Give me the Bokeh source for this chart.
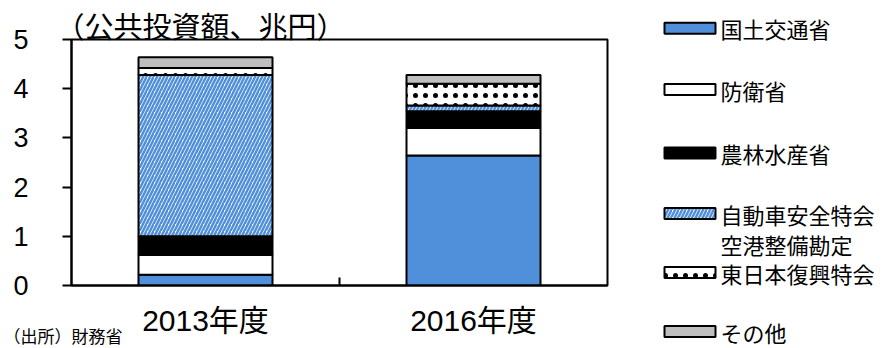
from bokeh.plotting import figure
from bokeh.models import Range1d, FixedTicker, GridBox
from bokeh.embed import file_html
from bokeh.resources import INLINE
from bokeh.core.properties import value
import numpy as np

# ---------------- data ----------------
years = ["2013年度", "2016年度"]
series = ["国土交通省", "防衛省", "農林水産省", "自動車安全特会\n空港整備勘定", "東日本復興特会", "その他"]
mlit = [0.22, 2.64]
defense = [0.40, 0.56]
maff = [0.38, 0.34]
auto_airport = [3.28, 0.12]
reconstruction = [0.14, 0.44]
other = [0.22, 0.18]
y_ticks = [0, 1, 2, 3, 4, 5]
title_text = "（公共投資額、兆円）"
source_text = "（出所）財務省"

values = [mlit, defense, maff, auto_airport, reconstruction, other]

# ---------------- styles ----------------
BLUE = "#508FDA"
styles = [
    dict(fill_color=BLUE),
    dict(fill_color="white"),
    dict(fill_color="black"),
    dict(fill_color="white", hatch_pattern="right_diagonal_line", hatch_color=BLUE,
         hatch_scale=7, hatch_weight=2.5),
    dict(fill_color="white", hatch_pattern="dot", hatch_color="black",
         hatch_scale=10, hatch_weight=3),
    dict(fill_color="#BFBFBF"),
]
FONT_NUM = "'Liberation Sans', 'Noto Sans CJK JP'"
FONT_JP = "Noto Sans CJK JP"
W, H = 890, 348

# ---------------- main chart ----------------
p = figure(width=W, height=H, x_range=Range1d(0, len(years)), y_range=Range1d(0, 5),
           output_backend="svg", toolbar_location=None,
           min_border_left=71, min_border_right=283, min_border_top=39, min_border_bottom=63)
p.frame_align = False

x_pos = [i + 0.5 for i in range(len(years))]
bottom = np.zeros(len(years))
for vals, st in zip(values, styles):
    top = bottom + np.array(vals)
    p.vbar(x=x_pos, bottom=list(bottom), top=list(top), width=0.5,
           line_color="black", line_width=2, **st)
    bottom = top

p.xgrid.visible = False
p.ygrid.visible = False
p.outline_line_color = "black"
p.outline_line_width = 2
p.background_fill_color = "white"
p.border_fill_color = "white"

ya = p.yaxis[0]
ya.ticker = FixedTicker(ticks=y_ticks, minor_ticks=[])
ya.axis_line_width = 2
ya.major_tick_line_width = 2
ya.major_tick_out = 9
ya.major_tick_in = 0
ya.minor_tick_line_color = None
ya.major_label_text_font_size = "27px"
ya.major_label_text_font = FONT_NUM
ya.major_label_text_color = "black"
ya.major_label_standoff = 34

xa = p.xaxis[0]
mids = [(x_pos[i] + x_pos[i + 1]) / 2 for i in range(len(x_pos) - 1)]
xa.ticker = FixedTicker(ticks=x_pos, minor_ticks=mids)
xa.major_label_overrides = {x: y for x, y in zip(x_pos, years)}
xa.axis_line_width = 2
xa.major_tick_in = 0
xa.major_tick_out = 0
xa.minor_tick_in = 8
xa.minor_tick_out = 0
xa.minor_tick_line_width = 2
xa.minor_tick_line_color = "black"
xa.major_label_text_font_size = "30px"
xa.major_label_text_font = FONT_NUM
xa.major_label_text_color = "black"
xa.major_label_standoff = 18

# ---------------- overlay: title, legend, source (pixel coordinates) ----------------
ov = figure(width=W, height=H, x_range=Range1d(0, W), y_range=Range1d(H, 0),
            output_backend="svg", toolbar_location=None, x_axis_type=None, y_axis_type=None,
            min_border=0, outline_line_color=None,
            background_fill_color=None, border_fill_color=None)
ov.frame_align = False
ov.xgrid.visible = False
ov.ygrid.visible = False

ov.text(x=[55], y=[24], text=[title_text], text_baseline="middle", text_align="left",
        text_font=value(FONT_JP), text_font_size="29px", text_color="black")
ov.text(x=[3], y=[335], text=[source_text], text_baseline="middle", text_align="left",
        text_font=value(FONT_JP), text_font_size="17px", text_color="black")

leg_y = [27.7, 89, 152.5, 213, 272, 331]
for name, st, yc in zip(series, styles, leg_y):
    ov.quad(left=[664], right=[715], top=[yc - 5.5], bottom=[yc + 5.5],
            line_color="black", line_width=2, **st)
    for k, line in enumerate(name.split("\n")):
        ov.text(x=[720], y=[yc + 30 * k], text=[line], text_baseline="middle",
                text_font=value(FONT_JP), text_font_size="22px", text_color="black")

layout = GridBox(children=[(p, 0, 0), (ov, 0, 0)])
open("out.html", "w").write(file_html(layout, INLINE))
